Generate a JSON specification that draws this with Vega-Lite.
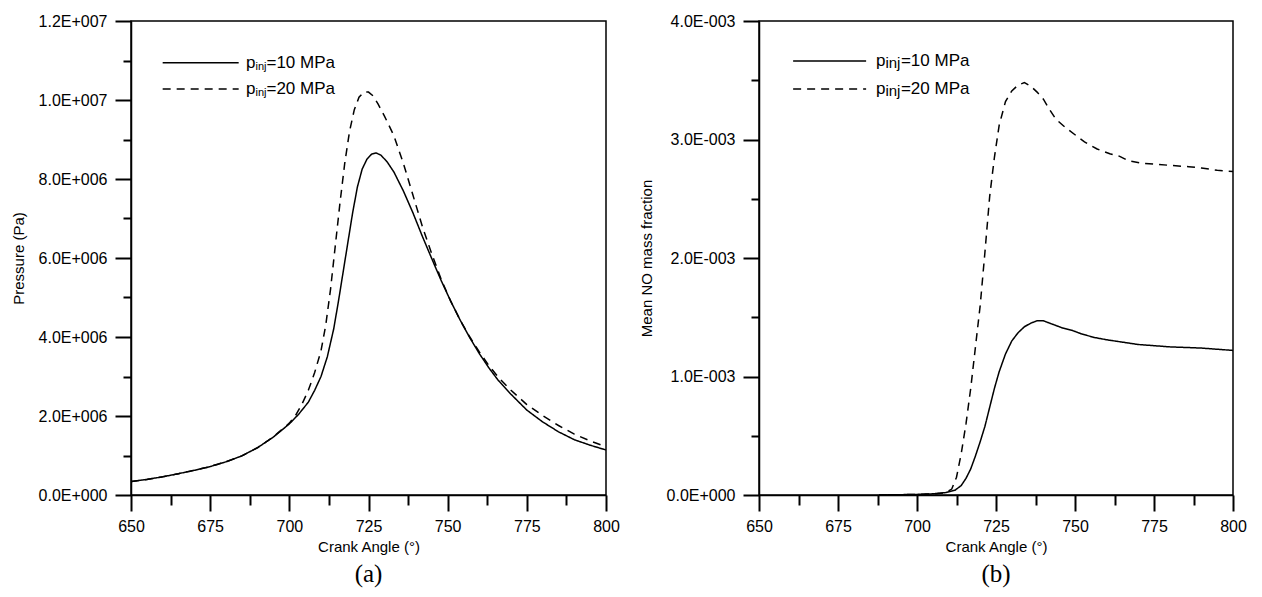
{
  "$schema": "https://vega.github.io/schema/vega-lite/v6.json",
  "background": "white",
  "padding": {"left": 10, "top": 12, "right": 5, "bottom": 3},
  "spacing": 153,
  "bounds": "flush",
  "config": {
    "font": "Liberation Sans",
    "view": {"stroke": "black", "strokeWidth": 1.5},
    "axis": {"domainColor": "black", "domainWidth": 1.5, "ticks": true, "tickColor": "black", "tickWidth": 2, "tickOpacity": 1, "labelColor": "black", "titleColor": "black", "labelFont": "Liberation Sans", "titleFont": "Liberation Sans", "labelFontSize": 16, "titleFontSize": 15, "titleFontWeight": "normal", "grid": false, "tickSize": 16},
    "title": {"font": "Liberation Serif", "fontSize": 25, "fontWeight": "normal", "color": "black"}
  },
  "datasets": {
    "pa": [
      {"angle": 650, "value": 340000, "series": "10 MPa"},
      {"angle": 655, "value": 395000, "series": "10 MPa"},
      {"angle": 660, "value": 460000, "series": "10 MPa"},
      {"angle": 665, "value": 540000, "series": "10 MPa"},
      {"angle": 670, "value": 625000, "series": "10 MPa"},
      {"angle": 675, "value": 720000, "series": "10 MPa"},
      {"angle": 680, "value": 840000, "series": "10 MPa"},
      {"angle": 685, "value": 990000, "series": "10 MPa"},
      {"angle": 690, "value": 1200000, "series": "10 MPa"},
      {"angle": 695, "value": 1470000, "series": "10 MPa"},
      {"angle": 700, "value": 1800000, "series": "10 MPa"},
      {"angle": 703, "value": 2050000, "series": "10 MPa"},
      {"angle": 706, "value": 2350000, "series": "10 MPa"},
      {"angle": 708, "value": 2650000, "series": "10 MPa"},
      {"angle": 710, "value": 3000000, "series": "10 MPa"},
      {"angle": 712, "value": 3500000, "series": "10 MPa"},
      {"angle": 714, "value": 4200000, "series": "10 MPa"},
      {"angle": 715.5, "value": 4900000, "series": "10 MPa"},
      {"angle": 717, "value": 5650000, "series": "10 MPa"},
      {"angle": 718.5, "value": 6400000, "series": "10 MPa"},
      {"angle": 720, "value": 7150000, "series": "10 MPa"},
      {"angle": 721.5, "value": 7800000, "series": "10 MPa"},
      {"angle": 723, "value": 8250000, "series": "10 MPa"},
      {"angle": 724.5, "value": 8500000, "series": "10 MPa"},
      {"angle": 726, "value": 8630000, "series": "10 MPa"},
      {"angle": 727.4, "value": 8660000, "series": "10 MPa"},
      {"angle": 729, "value": 8600000, "series": "10 MPa"},
      {"angle": 731, "value": 8420000, "series": "10 MPa"},
      {"angle": 733, "value": 8180000, "series": "10 MPa"},
      {"angle": 736, "value": 7700000, "series": "10 MPa"},
      {"angle": 739, "value": 7150000, "series": "10 MPa"},
      {"angle": 742, "value": 6550000, "series": "10 MPa"},
      {"angle": 745, "value": 5980000, "series": "10 MPa"},
      {"angle": 748, "value": 5420000, "series": "10 MPa"},
      {"angle": 751, "value": 4900000, "series": "10 MPa"},
      {"angle": 754, "value": 4420000, "series": "10 MPa"},
      {"angle": 757, "value": 3980000, "series": "10 MPa"},
      {"angle": 760, "value": 3580000, "series": "10 MPa"},
      {"angle": 763, "value": 3220000, "series": "10 MPa"},
      {"angle": 766, "value": 2900000, "series": "10 MPa"},
      {"angle": 770, "value": 2550000, "series": "10 MPa"},
      {"angle": 775, "value": 2150000, "series": "10 MPa"},
      {"angle": 780, "value": 1850000, "series": "10 MPa"},
      {"angle": 785, "value": 1600000, "series": "10 MPa"},
      {"angle": 790, "value": 1400000, "series": "10 MPa"},
      {"angle": 795, "value": 1260000, "series": "10 MPa"},
      {"angle": 800, "value": 1140000, "series": "10 MPa"},
      {"angle": 650, "value": 340000, "series": "20 MPa"},
      {"angle": 655, "value": 395000, "series": "20 MPa"},
      {"angle": 660, "value": 460000, "series": "20 MPa"},
      {"angle": 665, "value": 540000, "series": "20 MPa"},
      {"angle": 670, "value": 625000, "series": "20 MPa"},
      {"angle": 675, "value": 720000, "series": "20 MPa"},
      {"angle": 680, "value": 840000, "series": "20 MPa"},
      {"angle": 685, "value": 990000, "series": "20 MPa"},
      {"angle": 690, "value": 1200000, "series": "20 MPa"},
      {"angle": 695, "value": 1475000, "series": "20 MPa"},
      {"angle": 700, "value": 1820000, "series": "20 MPa"},
      {"angle": 702, "value": 2020000, "series": "20 MPa"},
      {"angle": 704, "value": 2300000, "series": "20 MPa"},
      {"angle": 706, "value": 2650000, "series": "20 MPa"},
      {"angle": 708, "value": 3100000, "series": "20 MPa"},
      {"angle": 710, "value": 3650000, "series": "20 MPa"},
      {"angle": 711.5, "value": 4300000, "series": "20 MPa"},
      {"angle": 713, "value": 5200000, "series": "20 MPa"},
      {"angle": 714.5, "value": 6300000, "series": "20 MPa"},
      {"angle": 716, "value": 7400000, "series": "20 MPa"},
      {"angle": 717.5, "value": 8400000, "series": "20 MPa"},
      {"angle": 719, "value": 9200000, "series": "20 MPa"},
      {"angle": 720.5, "value": 9750000, "series": "20 MPa"},
      {"angle": 722, "value": 10070000, "series": "20 MPa"},
      {"angle": 723.5, "value": 10200000, "series": "20 MPa"},
      {"angle": 725, "value": 10200000, "series": "20 MPa"},
      {"angle": 726.5, "value": 10100000, "series": "20 MPa"},
      {"angle": 728, "value": 9900000, "series": "20 MPa"},
      {"angle": 730, "value": 9600000, "series": "20 MPa"},
      {"angle": 733, "value": 9100000, "series": "20 MPa"},
      {"angle": 736, "value": 8400000, "series": "20 MPa"},
      {"angle": 739, "value": 7600000, "series": "20 MPa"},
      {"angle": 742, "value": 6800000, "series": "20 MPa"},
      {"angle": 745, "value": 6100000, "series": "20 MPa"},
      {"angle": 748, "value": 5450000, "series": "20 MPa"},
      {"angle": 751, "value": 4900000, "series": "20 MPa"},
      {"angle": 754, "value": 4420000, "series": "20 MPa"},
      {"angle": 757, "value": 4000000, "series": "20 MPa"},
      {"angle": 760, "value": 3620000, "series": "20 MPa"},
      {"angle": 763, "value": 3280000, "series": "20 MPa"},
      {"angle": 766, "value": 2980000, "series": "20 MPa"},
      {"angle": 770, "value": 2650000, "series": "20 MPa"},
      {"angle": 775, "value": 2290000, "series": "20 MPa"},
      {"angle": 780, "value": 2010000, "series": "20 MPa"},
      {"angle": 785, "value": 1760000, "series": "20 MPa"},
      {"angle": 790, "value": 1540000, "series": "20 MPa"},
      {"angle": 795, "value": 1370000, "series": "20 MPa"},
      {"angle": 800, "value": 1220000, "series": "20 MPa"}
    ],
    "no": [
      {"angle": 688, "value": 0, "series": "10 MPa"},
      {"angle": 700, "value": 0.000005, "series": "10 MPa"},
      {"angle": 705, "value": 0.00001, "series": "10 MPa"},
      {"angle": 709, "value": 0.00002, "series": "10 MPa"},
      {"angle": 712, "value": 0.00004, "series": "10 MPa"},
      {"angle": 714, "value": 0.00008, "series": "10 MPa"},
      {"angle": 715.5, "value": 0.00014, "series": "10 MPa"},
      {"angle": 717, "value": 0.00022, "series": "10 MPa"},
      {"angle": 718.5, "value": 0.00033, "series": "10 MPa"},
      {"angle": 720, "value": 0.00045, "series": "10 MPa"},
      {"angle": 721.5, "value": 0.00058, "series": "10 MPa"},
      {"angle": 723, "value": 0.00074, "series": "10 MPa"},
      {"angle": 724.5, "value": 0.0009, "series": "10 MPa"},
      {"angle": 726, "value": 0.00104, "series": "10 MPa"},
      {"angle": 728, "value": 0.00119, "series": "10 MPa"},
      {"angle": 730, "value": 0.0013, "series": "10 MPa"},
      {"angle": 732, "value": 0.00137, "series": "10 MPa"},
      {"angle": 734, "value": 0.00142, "series": "10 MPa"},
      {"angle": 736, "value": 0.00145, "series": "10 MPa"},
      {"angle": 738, "value": 0.00147, "series": "10 MPa"},
      {"angle": 740, "value": 0.00147, "series": "10 MPa"},
      {"angle": 742, "value": 0.00145, "series": "10 MPa"},
      {"angle": 744, "value": 0.00143, "series": "10 MPa"},
      {"angle": 746, "value": 0.00141, "series": "10 MPa"},
      {"angle": 749, "value": 0.00139, "series": "10 MPa"},
      {"angle": 752, "value": 0.00136, "series": "10 MPa"},
      {"angle": 756, "value": 0.00133, "series": "10 MPa"},
      {"angle": 760, "value": 0.00131, "series": "10 MPa"},
      {"angle": 765, "value": 0.00129, "series": "10 MPa"},
      {"angle": 770, "value": 0.00127, "series": "10 MPa"},
      {"angle": 775, "value": 0.00126, "series": "10 MPa"},
      {"angle": 780, "value": 0.00125, "series": "10 MPa"},
      {"angle": 790, "value": 0.00124, "series": "10 MPa"},
      {"angle": 800, "value": 0.00122, "series": "10 MPa"},
      {"angle": 688, "value": 0, "series": "20 MPa"},
      {"angle": 700, "value": 0.000005, "series": "20 MPa"},
      {"angle": 706, "value": 0.00001, "series": "20 MPa"},
      {"angle": 709, "value": 0.00002, "series": "20 MPa"},
      {"angle": 711, "value": 0.00005, "series": "20 MPa"},
      {"angle": 712.5, "value": 0.00015, "series": "20 MPa"},
      {"angle": 714, "value": 0.00035, "series": "20 MPa"},
      {"angle": 715.5, "value": 0.0006, "series": "20 MPa"},
      {"angle": 717, "value": 0.0009, "series": "20 MPa"},
      {"angle": 718.5, "value": 0.00125, "series": "20 MPa"},
      {"angle": 720, "value": 0.0016, "series": "20 MPa"},
      {"angle": 721.5, "value": 0.00205, "series": "20 MPa"},
      {"angle": 723, "value": 0.00252, "series": "20 MPa"},
      {"angle": 724.5, "value": 0.00285, "series": "20 MPa"},
      {"angle": 726, "value": 0.00312, "series": "20 MPa"},
      {"angle": 728, "value": 0.00332, "series": "20 MPa"},
      {"angle": 730, "value": 0.00341, "series": "20 MPa"},
      {"angle": 732, "value": 0.00346, "series": "20 MPa"},
      {"angle": 734, "value": 0.00348, "series": "20 MPa"},
      {"angle": 736, "value": 0.00345, "series": "20 MPa"},
      {"angle": 738, "value": 0.0034, "series": "20 MPa"},
      {"angle": 740, "value": 0.00334, "series": "20 MPa"},
      {"angle": 742, "value": 0.00325, "series": "20 MPa"},
      {"angle": 744, "value": 0.00317, "series": "20 MPa"},
      {"angle": 747, "value": 0.0031, "series": "20 MPa"},
      {"angle": 750, "value": 0.00304, "series": "20 MPa"},
      {"angle": 753, "value": 0.00298, "series": "20 MPa"},
      {"angle": 757, "value": 0.00292, "series": "20 MPa"},
      {"angle": 761, "value": 0.00288, "series": "20 MPa"},
      {"angle": 764, "value": 0.00286, "series": "20 MPa"},
      {"angle": 767, "value": 0.00282, "series": "20 MPa"},
      {"angle": 771, "value": 0.0028, "series": "20 MPa"},
      {"angle": 776, "value": 0.00279, "series": "20 MPa"},
      {"angle": 781, "value": 0.00278, "series": "20 MPa"},
      {"angle": 786, "value": 0.00277, "series": "20 MPa"},
      {"angle": 790, "value": 0.00276, "series": "20 MPa"},
      {"angle": 795, "value": 0.00274, "series": "20 MPa"},
      {"angle": 800, "value": 0.00273, "series": "20 MPa"}
    ],
    "legA": [
      {"lx1": 660, "lx2": 684, "tx": 686.3, "ly": 10940000, "rest": "=10 MPa", "series": "10 MPa"},
      {"lx1": 660, "lx2": 684, "tx": 686.3, "ly": 10280000, "rest": "=20 MPa", "series": "20 MPa"}
    ],
    "legB": [
      {"lx1": 660.8, "lx2": 683.9, "tx": 687, "ly": 0.003662, "rest": "=10 MPa", "series": "10 MPa"},
      {"lx1": 660.8, "lx2": 683.9, "tx": 687, "ly": 0.003426, "rest": "=20 MPa", "series": "20 MPa"}
    ]
  },
  "hconcat": [
    {
      "width": 475,
      "height": 474,
      "title": {"text": "(a)", "orient": "bottom", "offset": 8},
      "resolve": {"axis": {"x": "independent", "y": "independent"}},
      "layer": [
        {
          "data": {"name": "pa"},
          "mark": {"type": "line", "color": "black", "strokeWidth": 1.5, "clip": true},
          "encoding": {
            "x": {"field": "angle", "type": "quantitative", "scale": {"domain": [650, 800], "nice": false, "zero": false},
                  "axis": {"title": "Crank Angle (°)", "values": [650, 675, 700, 725, 750, 775, 800], "format": "d", "tickSize": 16, "labelPadding": 7, "titlePadding": 5, "labelFlush": false}},
            "y": {"field": "value", "type": "quantitative", "scale": {"domain": [0, 12000000], "nice": false},
                  "axis": {"title": "Pressure (Pa)", "values": [0, 2000000, 4000000, 6000000, 8000000, 10000000, 12000000], "labelExpr": "datum.value == 0 ? '0.0E+000' : (datum.value < 10000000 ? format(datum.value/1000000, '.1f') + 'E+006' : format(datum.value/10000000, '.1f') + 'E+007')", "tickSize": 16, "labelPadding": 8, "titlePadding": 12, "labelFlush": false}},
            "strokeDash": {"field": "series", "type": "nominal", "scale": {"domain": ["10 MPa", "20 MPa"], "range": [[1, 0], [8, 6]]}, "legend": null}
          }
        },
        {
          "data": {"name": "legA"},
          "mark": {"type": "point", "opacity": 0},
          "encoding": {
            "x": {"field": "tx", "type": "quantitative", "scale": {"domain": [650, 800], "nice": false, "zero": false},
                  "axis": {"orient": "bottom", "title": null, "labels": false, "domain": false, "tickSize": 10, "values": [662.5, 687.5, 712.5, 737.5, 762.5, 787.5]}},
            "y": {"field": "ly", "type": "quantitative", "scale": {"domain": [0, 12000000], "nice": false},
                  "axis": {"orient": "left", "title": null, "labels": false, "domain": false, "tickSize": 8, "values": [1000000, 3000000, 5000000, 7000000, 9000000, 11000000]}}
          }
        },
        {
          "data": {"name": "legA"},
          "mark": {"type": "rule", "color": "black", "strokeWidth": 1.5},
          "encoding": {
            "x": {"field": "lx1", "type": "quantitative", "axis": null},
            "x2": {"field": "lx2"},
            "y": {"field": "ly", "type": "quantitative", "axis": null},
            "strokeDash": {"field": "series", "type": "nominal", "scale": {"domain": ["10 MPa", "20 MPa"], "range": [[1, 0], [8, 6]]}, "legend": null}
          }
        },
        {
          "data": {"name": "legA"},
          "mark": {"type": "text", "align": "left", "baseline": "middle", "fontSize": 17, "color": "black"},
          "encoding": {"x": {"field": "tx", "type": "quantitative", "axis": null}, "y": {"field": "ly", "type": "quantitative", "axis": null}, "text": {"value": "p"}}
        },
        {
          "data": {"name": "legA"},
          "mark": {"type": "text", "align": "left", "baseline": "middle", "fontSize": 11, "dx": 9.5, "dy": 4, "color": "black"},
          "encoding": {"x": {"field": "tx", "type": "quantitative", "axis": null}, "y": {"field": "ly", "type": "quantitative", "axis": null}, "text": {"value": "inj"}}
        },
        {
          "data": {"name": "legA"},
          "mark": {"type": "text", "align": "left", "baseline": "middle", "fontSize": 17, "dx": 20.5, "color": "black"},
          "encoding": {"x": {"field": "tx", "type": "quantitative", "axis": null}, "y": {"field": "ly", "type": "quantitative", "axis": null}, "text": {"field": "rest"}}
        }
      ]
    },
    {
      "width": 474,
      "height": 474,
      "title": {"text": "(b)", "orient": "bottom", "offset": 8},
      "resolve": {"axis": {"x": "independent", "y": "independent"}},
      "layer": [
        {
          "data": {"name": "no"},
          "mark": {"type": "line", "color": "black", "strokeWidth": 1.5, "clip": true},
          "encoding": {
            "x": {"field": "angle", "type": "quantitative", "scale": {"domain": [650, 800], "nice": false, "zero": false},
                  "axis": {"title": "Crank Angle (°)", "values": [650, 675, 700, 725, 750, 775, 800], "format": "d", "tickSize": 16, "labelPadding": 7, "titlePadding": 5, "labelFlush": false}},
            "y": {"field": "value", "type": "quantitative", "scale": {"domain": [0, 0.004], "nice": false},
                  "axis": {"title": "Mean NO mass fraction", "values": [0, 0.001, 0.002, 0.003, 0.004], "labelExpr": "datum.value == 0 ? '0.0E+000' : format(datum.value*1000, '.1f') + 'E-003'", "tickSize": 16, "labelPadding": 8, "titlePadding": 12, "labelFlush": false}},
            "strokeDash": {"field": "series", "type": "nominal", "scale": {"domain": ["10 MPa", "20 MPa"], "range": [[1, 0], [8, 6]]}, "legend": null}
          }
        },
        {
          "data": {"name": "legB"},
          "mark": {"type": "point", "opacity": 0},
          "encoding": {
            "x": {"field": "tx", "type": "quantitative", "scale": {"domain": [650, 800], "nice": false, "zero": false},
                  "axis": {"orient": "bottom", "title": null, "labels": false, "domain": false, "tickSize": 10, "values": [662.5, 687.5, 712.5, 737.5, 762.5, 787.5]}},
            "y": {"field": "ly", "type": "quantitative", "scale": {"domain": [0, 0.004], "nice": false},
                  "axis": {"orient": "left", "title": null, "labels": false, "domain": false, "tickSize": 8, "values": [0.0005, 0.0015, 0.0025, 0.0035]}}
          }
        },
        {
          "data": {"name": "legB"},
          "mark": {"type": "rule", "color": "black", "strokeWidth": 1.5},
          "encoding": {
            "x": {"field": "lx1", "type": "quantitative", "axis": null},
            "x2": {"field": "lx2"},
            "y": {"field": "ly", "type": "quantitative", "axis": null},
            "strokeDash": {"field": "series", "type": "nominal", "scale": {"domain": ["10 MPa", "20 MPa"], "range": [[1, 0], [8, 6]]}, "legend": null}
          }
        },
        {
          "data": {"name": "legB"},
          "mark": {"type": "text", "align": "left", "baseline": "middle", "fontSize": 17, "color": "black"},
          "encoding": {"x": {"field": "tx", "type": "quantitative", "axis": null}, "y": {"field": "ly", "type": "quantitative", "axis": null}, "text": {"value": "p"}}
        },
        {
          "data": {"name": "legB"},
          "mark": {"type": "text", "align": "left", "baseline": "middle", "fontSize": 15, "dx": 9.5, "dy": 2, "color": "black"},
          "encoding": {"x": {"field": "tx", "type": "quantitative", "axis": null}, "y": {"field": "ly", "type": "quantitative", "axis": null}, "text": {"value": "inj"}}
        },
        {
          "data": {"name": "legB"},
          "mark": {"type": "text", "align": "left", "baseline": "middle", "fontSize": 17, "dx": 25, "color": "black"},
          "encoding": {"x": {"field": "tx", "type": "quantitative", "axis": null}, "y": {"field": "ly", "type": "quantitative", "axis": null}, "text": {"field": "rest"}}
        }
      ]
    }
  ]
}
